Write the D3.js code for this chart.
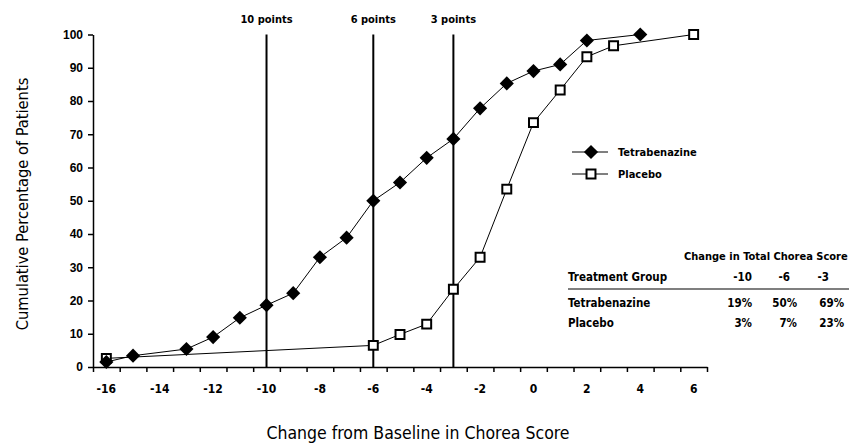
<!DOCTYPE html>
<html>
<head>
<meta charset="utf-8">
<script src="https://cdn.jsdelivr.net/npm/d3@7"></script>
<style>
  body { margin: 0; background: #fff; }
  svg { font-family: "DejaVu Sans Condensed", "Liberation Sans Narrow", "Arial Narrow", sans-serif; }
  .axis path, .axis line { stroke: #000; stroke-width: 1.5; }
  .axis text { font-size: 12px; fill: #000; font-weight: bold; }
  .small { font-weight: bold; }
</style>
</head>
<body>
<div id="chart"></div>
<script>
// change from baseline (x) and cumulative % of patients (y)
let tetraX = [-16, -15, -13, -12, -11, -10, -9, -8, -7, -6, -5, -4, -3, -2, -1, 0, 1, 2, 4];
let tetraY = [1.5, 3.4, 5.4, 9, 14.8, 18.6, 22.2, 33, 38.9, 50, 55.5, 62.9, 68.6, 77.8, 85.3, 89, 91, 98.2, 100];

let placeboX = [-16, -6, -5, -4, -3, -2, -1, 0, 1, 2, 3, 6];
let placeboY = [2.6, 6.5, 9.8, 12.9, 23.4, 33, 53.5, 73.5, 83.3, 93.3, 96.6, 100];

// reference lines
let cutoffs = [-10, -6, -3];
let cutoffLabels = ["10 points", "6 points", "3 points"];

let xTickLabels = [-16, -14, -12, -10, -8, -6, -4, -2, 0, 2, 4, 6];
let yTickLabels = [0, 10, 20, 30, 40, 50, 60, 70, 80, 90, 100];

// summary table
let tableTitle = "Change in Total Chorea Score";
let tableHeader = ["Treatment Group", "-10", "-6", "-3"];
let tableGroups = ["Tetrabenazine", "Placebo"];
let tableTetra = ["19%", "50%", "69%"];
let tablePlacebo = ["3%", "7%", "23%"];

let width = 849, height = 444;

let svg = d3.select("#chart").append("svg")
    .attr("width", width)
    .attr("height", height);

let x = d3.scaleLinear().domain([-16.5, 6.5]).range([93, 707]);
let y = d3.scaleLinear().domain([0, 100]).range([367, 34.5]);

// x axis: tick marks on half units, labels on even units
let xTicks = d3.range(-16.5, 6.6, 1);
svg.append("g")
    .attr("class", "axis")
    .attr("transform", "translate(0," + y(0) + ")")
    .call(d3.axisBottom(x).tickValues(xTicks).tickSize(5).tickSizeOuter(0).tickFormat(""));

svg.append("g")
    .attr("class", "small")
    .selectAll("text")
    .data(xTickLabels)
    .join("text")
    .attr("x", d => x(d))
    .attr("y", 393)
    .attr("text-anchor", "middle")
    .attr("font-size", 12)
    .text(d => d);

// y axis
svg.append("g")
    .attr("class", "axis")
    .attr("transform", "translate(" + x(-16.5) + ",0)")
    .call(d3.axisLeft(y).tickValues(yTickLabels).tickSize(5).tickSizeOuter(0).tickPadding(5));

// axis titles
svg.append("text")
    .attr("x", 418)
    .attr("y", 439)
    .attr("text-anchor", "middle")
    .attr("font-size", 17.5)
    .text("Change from Baseline in Chorea Score");

svg.append("text")
    .attr("transform", "translate(28," + 204 + ") rotate(-90)")
    .attr("text-anchor", "middle")
    .attr("font-size", 16.3)
    .text("Cumulative Percentage of Patients");

// vertical cutoff lines
svg.append("g")
    .selectAll("line")
    .data(cutoffs)
    .join("line")
    .attr("x1", d => x(d))
    .attr("x2", d => x(d))
    .attr("y1", y(100))
    .attr("y2", y(0))
    .attr("stroke", "#000")
    .attr("stroke-width", 2);

svg.append("g")
    .attr("class", "small")
    .selectAll("text")
    .data(cutoffs)
    .join("text")
    .attr("x", d => x(d))
    .attr("y", 23)
    .attr("text-anchor", "middle")
    .attr("font-size", 11)
    .text((d, i) => cutoffLabels[i]);

let tetra = tetraX.map((d, i) => ({ x: d, y: tetraY[i] }));
let placebo = placeboX.map((d, i) => ({ x: d, y: placeboY[i] }));

let line = d3.line()
    .x(d => x(d.x))
    .y(d => y(d.y));

svg.append("path")
    .datum(placebo)
    .attr("fill", "none")
    .attr("stroke", "#000")
    .attr("stroke-width", 1)
    .attr("d", line);

svg.append("path")
    .datum(tetra)
    .attr("fill", "none")
    .attr("stroke", "#000")
    .attr("stroke-width", 1)
    .attr("d", line);

let diamond = d3.symbol().type(d3.symbolSquare).size(100);
let square = d3.symbol().type(d3.symbolSquare).size(80);

svg.append("g")
    .selectAll("path")
    .data(placebo)
    .join("path")
    .attr("d", square)
    .attr("transform", d => "translate(" + x(d.x) + "," + y(d.y) + ")")
    .attr("fill", "#fff")
    .attr("stroke", "#000")
    .attr("stroke-width", 2);

svg.append("g")
    .selectAll("path")
    .data(tetra)
    .join("path")
    .attr("d", diamond)
    .attr("transform", d => "translate(" + x(d.x) + "," + y(d.y) + ") rotate(45)")
    .attr("fill", "#000");

// legend
let legend = svg.append("g").attr("class", "small").attr("transform", "translate(572,152)");
legend.append("line").attr("x1", 0).attr("x2", 36).attr("stroke", "#000");
legend.append("path").attr("d", diamond).attr("transform", "translate(19,0) rotate(45)").attr("fill", "#000");
legend.append("text").attr("x", 46).attr("y", 4).attr("font-size", 11).text("Tetrabenazine");

legend.append("line").attr("x1", 0).attr("x2", 36).attr("y1", 22).attr("y2", 22).attr("stroke", "#000");
legend.append("path").attr("d", square).attr("transform", "translate(19,22)")
    .attr("fill", "#fff").attr("stroke", "#000").attr("stroke-width", 2);
legend.append("text").attr("x", 46).attr("y", 26).attr("font-size", 11).text("Placebo");

// table
let table = svg.append("g").attr("class", "small").attr("font-size", 11.5);
table.append("text").attr("x", 684).attr("y", 260).attr("font-size", 11).text(tableTitle);

let colX = [568, 752, 790, 829];
table.selectAll(".hdr")
    .data(tableHeader)
    .join("text")
    .attr("class", "hdr")
    .attr("x", (d, i) => colX[i])
    .attr("y", 281)
    .attr("text-anchor", (d, i) => i == 0 ? "start" : "end")
    .text(d => d);

table.append("line")
    .attr("x1", 568).attr("x2", 849)
    .attr("y1", 289).attr("y2", 289)
    .attr("stroke", "#000").attr("stroke-width", 1.2);

let valX = [752, 797, 844];
[tableTetra, tablePlacebo].forEach((row, r) => {
    let ry = 307 + r * 20;
    table.append("text").attr("x", 568).attr("y", ry).text(tableGroups[r]);
    table.selectAll(".row" + r)
        .data(row)
        .join("text")
        .attr("class", "row" + r)
        .attr("x", (d, i) => valX[i])
        .attr("y", ry)
        .attr("text-anchor", "end")
        .text(d => d);
});
</script>
</body>
</html>
